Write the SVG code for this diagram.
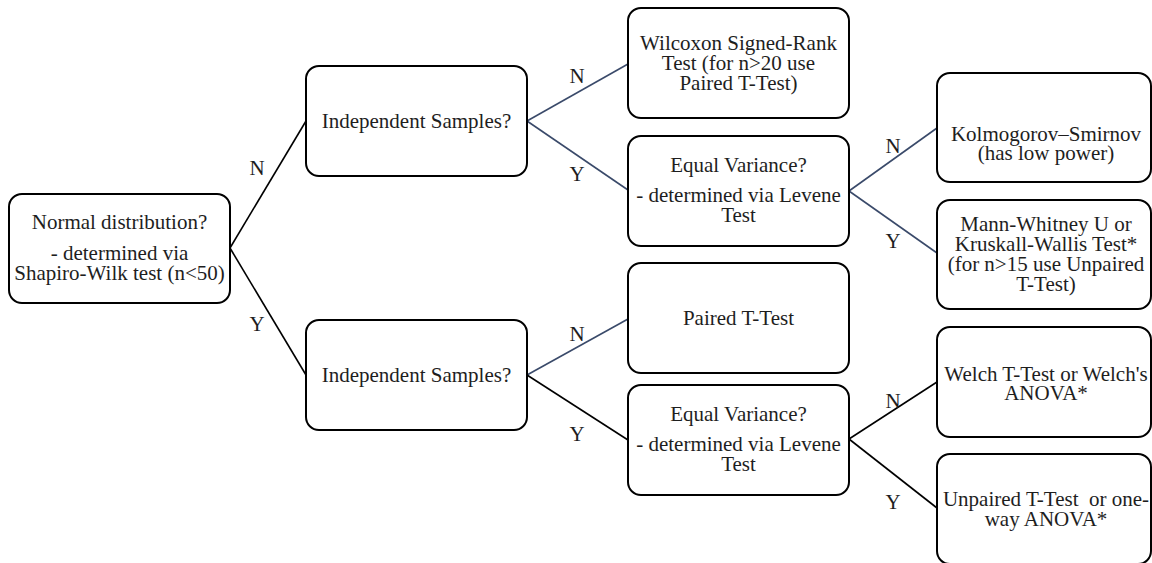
<svg xmlns="http://www.w3.org/2000/svg" width="1152" height="563" viewBox="0 0 1152 563">
<style>
.box{fill:#fff;stroke:#000;stroke-width:2}
.t{font-family:"Liberation Serif","Times New Roman",serif;font-size:21px;fill:#1e1e1e;text-anchor:middle}
.c{fill:none;stroke:#000;stroke-width:1.6}
.s{stroke:#3a4a6a}
</style>
<rect width="1152" height="563" fill="#fff"/>
<g id="connectors">
<path class="c" d="M230,248 L306,121"/>
<path class="c" d="M230,248 L306,375"/>
<path class="c s" d="M527,121 L628,64"/>
<path class="c s" d="M527,121 L628,190"/>
<path class="c s" d="M849,191 L937,128"/>
<path class="c s" d="M849,191 L937,253"/>
<path class="c s" d="M527,375 L628,319"/>
<path class="c" d="M527,375 L628,440"/>
<path class="c" d="M849,439 L937,382"/>
<path class="c" d="M849,439 L937,508"/>
<text class="t" x="257" y="175">N</text>
<text class="t" x="257" y="331">Y</text>
<text class="t" x="577" y="83">N</text>
<text class="t" x="577" y="181">Y</text>
<text class="t" x="577" y="341">N</text>
<text class="t" x="577" y="441">Y</text>
<text class="t" x="893" y="153">N</text>
<text class="t" x="893" y="248">Y</text>
<text class="t" x="893" y="408">N</text>
<text class="t" x="893" y="509">Y</text>
</g>
<g id="normal">
<rect class="box" x="9" y="194" width="221" height="109" rx="13"/>
<text class="t" x="119.5" y="229">Normal distribution?</text>
<text class="t" x="119.5" y="260">- determined via</text>
<text class="t" x="119.5" y="280">Shapiro-Wilk test (n&lt;50)</text>
</g>
<g id="indep1">
<rect class="box" x="306" y="66" width="221" height="110" rx="13"/>
<text class="t" x="416.5" y="128">Independent Samples?</text>
</g>
<g id="indep2">
<rect class="box" x="306" y="320" width="221" height="110" rx="13"/>
<text class="t" x="416.5" y="382">Independent Samples?</text>
</g>
<g id="wilcoxon">
<rect class="box" x="628" y="8" width="221" height="110" rx="13"/>
<text class="t" x="738.5" y="50">Wilcoxon Signed-Rank</text>
<text class="t" x="738.5" y="70">Test (for n&gt;20 use</text>
<text class="t" x="738.5" y="90">Paired T-Test)</text>
</g>
<g id="eqvar1">
<rect class="box" x="628" y="136" width="221" height="110" rx="13"/>
<text class="t" x="738.5" y="172">Equal Variance?</text>
<text class="t" x="738.5" y="202">- determined via Levene</text>
<text class="t" x="738.5" y="222">Test</text>
</g>
<g id="paired">
<rect class="box" x="628" y="263" width="221" height="110" rx="13"/>
<text class="t" x="738.5" y="325">Paired T-Test</text>
</g>
<g id="eqvar2">
<rect class="box" x="628" y="385" width="221" height="110" rx="13"/>
<text class="t" x="738.5" y="421">Equal Variance?</text>
<text class="t" x="738.5" y="451">- determined via Levene</text>
<text class="t" x="738.5" y="471">Test</text>
</g>
<g id="kolmogorov">
<rect class="box" x="937" y="73" width="214" height="109" rx="13"/>
<text class="t" x="1046" y="141">Kolmogorov–Smirnov</text>
<text class="t" x="1046" y="160">(has low power)</text>
</g>
<g id="mann">
<rect class="box" x="937" y="200" width="214" height="109" rx="13"/>
<text class="t" x="1046" y="231">Mann-Whitney U or</text>
<text class="t" x="1046" y="251">Kruskall-Wallis Test*</text>
<text class="t" x="1046" y="271">(for n&gt;15 use Unpaired</text>
<text class="t" x="1046" y="291">T-Test)</text>
</g>
<g id="welch">
<rect class="box" x="937" y="327" width="214" height="110" rx="13"/>
<text class="t" x="1046" y="381">Welch T-Test or Welch's</text>
<text class="t" x="1046" y="400">ANOVA*</text>
</g>
<g id="unpaired">
<rect class="box" x="937" y="454" width="214" height="110" rx="13"/>
<text class="t" x="1046" y="506">Unpaired T-Test&#160; or one-</text>
<text class="t" x="1046" y="526">way ANOVA*</text>
</g>
</svg>
